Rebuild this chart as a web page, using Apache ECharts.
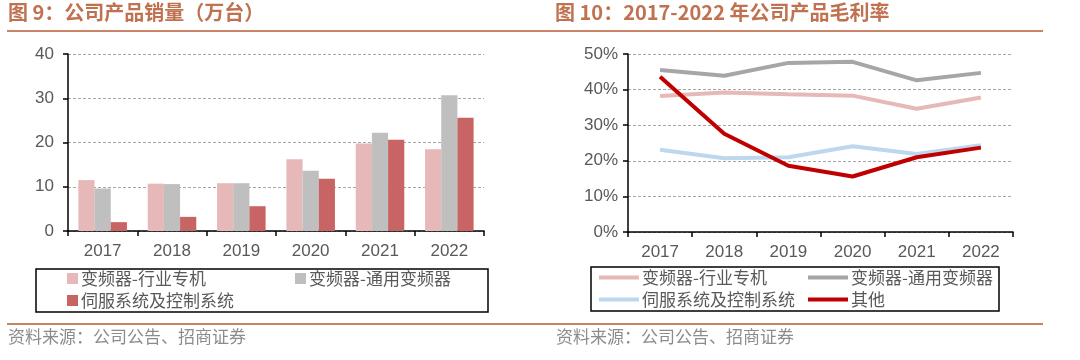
<!DOCTYPE html>
<html><head><meta charset="utf-8">
<script src="https://cdn.jsdelivr.net/npm/echarts@6/dist/echarts.min.js"></script>
<style>html,body{margin:0;padding:0;background:#fff}#c{width:1080px;height:360px}</style>
</head><body><div id="c"></div>
<script>
var years = ['2017','2018','2019','2020','2021','2022'];
var salesNames = ['变频器-行业专机','变频器-通用变频器','伺服系统及控制系统'];
var salesSpecial = [11.5, 10.7, 10.8, 16.2, 19.8, 18.5];
var salesGeneral = [9.6, 10.6, 10.8, 13.6, 22.2, 30.7];
var salesServo = [2.0, 3.2, 5.6, 11.8, 20.6, 25.6];
var marginNames = ['变频器-行业专机','变频器-通用变频器','伺服系统及控制系统','其他'];
var marginSpecial = [38.2, 39.2, 38.7, 38.3, 34.6, 37.8];
var marginGeneral = [45.5, 43.9, 47.5, 47.8, 42.6, 44.7];
var marginServo = [23.1, 20.7, 21.0, 24.1, 21.9, 24.4];
var marginOther = [43.6, 27.6, 18.6, 15.6, 21.0, 23.7];
var leftTicks = [0, 10, 20, 30, 40];
var rightTicks = ['0%','10%','20%','30%','40%','50%'];

var cPink = '#E6B8B7', cGray = '#BFBFBF', cRed = '#C86464';
var lPink = '#E6B8B7', lGray = '#A6A6A6', lBlue = '#BDD7EE', lRed = '#C00000';
var txt = '#595959';
var titleColor = '#C0714F';
var lab = {color: txt, fontSize: 17, fontFamily: 'Liberation Sans, Arial, sans-serif'};
var legText = {color: txt, fontSize: 17, fontFamily: 'Noto Sans CJK SC, sans-serif'};

var chart = echarts.init(document.getElementById('c'));
function ax(extra){
  return Object.assign({
    axisLine:{show:true,lineStyle:{color:'#000',width:1.5}},
    axisTick:{show:true,lineStyle:{color:'#000',width:1.5},length:5},
    axisLabel:Object.assign({},lab),
    splitLine:{show:false}
  }, extra);
}
function leg(name, left, top, icon, w, h){
  return {data:[name], left:left, top:top, orient:'horizontal', icon:icon, itemWidth:w, itemHeight:h,
    itemGap:0, padding:0, textStyle:Object.assign({padding:[0,0,0,-2]}, legText), selectedMode:false};
}
var option = {
  animation:false,
  textStyle:{fontFamily:'Noto Sans CJK SC, sans-serif'},
  grid:[
    {left:68, top:54, width:416, height:177},
    {left:628, top:54, width:385, height:178}
  ],
  xAxis:[
    ax({type:'category', data:years, gridIndex:0, axisTick:{show:true,alignWithLabel:false,length:5,lineStyle:{color:'#000',width:1.5}}, axisLabel:Object.assign({margin:12},lab)}),
    ax({type:'category', data:years, gridIndex:1, axisTick:{show:true,alignWithLabel:false,length:5,lineStyle:{color:'#000',width:1.5}}, axisLabel:Object.assign({margin:12},lab)})
  ],
  yAxis:[
    ax({type:'value', gridIndex:0, min:0, max:40, interval:10,
      axisLabel:Object.assign({margin:14, formatter:function(v){return leftTicks.indexOf(v)>=0? String(v):'';}},lab),
      splitLine:{show:true,lineStyle:{color:'#A6A6A6',type:[3,2],width:1}}}),
    ax({type:'value', gridIndex:1, min:0, max:50, interval:10,
      axisLabel:Object.assign({margin:10, formatter:function(v){return rightTicks[v/10];}},lab),
      splitLine:{show:true,lineStyle:{color:'#A6A6A6',type:[3,2],width:1}}})
  ],
  legend:[
    leg(salesNames[0], 67, 270, 'rect', 11, 11),
    leg(salesNames[1], 295, 270, 'rect', 11, 11),
    leg(salesNames[2], 67, 292, 'rect', 11, 11),
    leg(marginNames[0]+' ', 599, 269, 'path://M0,0H40V4H0Z', 40, 4),
    leg(marginNames[1]+' ', 808, 269, 'path://M0,0H40V4H0Z', 40, 4),
    leg(marginNames[2]+' ', 599, 291, 'path://M0,0H40V4H0Z', 40, 4),
    leg(marginNames[3], 808, 291, 'path://M0,0H40V4H0Z', 40, 4)
  ],
  series:[
    {name:salesNames[0], type:'bar', xAxisIndex:0, yAxisIndex:0, data:salesSpecial, itemStyle:{color:cPink}, barGap:'0%', barCategoryGap:'30%'},
    {name:salesNames[1], type:'bar', xAxisIndex:0, yAxisIndex:0, data:salesGeneral, itemStyle:{color:cGray}, barGap:'0%', barCategoryGap:'30%'},
    {name:salesNames[2], type:'bar', xAxisIndex:0, yAxisIndex:0, data:salesServo, itemStyle:{color:cRed}, barGap:'0%', barCategoryGap:'30%'},
    {name:marginNames[0]+' ', type:'line', xAxisIndex:1, yAxisIndex:1, data:marginSpecial, symbol:'none', lineStyle:{color:lPink,width:4}, itemStyle:{color:lPink}},
    {name:marginNames[1]+' ', type:'line', xAxisIndex:1, yAxisIndex:1, data:marginGeneral, symbol:'none', lineStyle:{color:lGray,width:4}, itemStyle:{color:lGray}},
    {name:marginNames[2]+' ', type:'line', xAxisIndex:1, yAxisIndex:1, data:marginServo, symbol:'none', lineStyle:{color:lBlue,width:4}, itemStyle:{color:lBlue}},
    {name:marginNames[3], type:'line', xAxisIndex:1, yAxisIndex:1, data:marginOther, symbol:'none', lineStyle:{color:lRed,width:4}, itemStyle:{color:lRed}}
  ],
  graphic:[
    {type:'text', left:8, top:2, style:{text:'图 9：公司产品销量（万台）', fill:titleColor, font:'bold 20px "Noto Sans CJK SC", sans-serif'}},
    {type:'text', left:555, top:2, style:{text:'图 10：2017-2022 年公司产品毛利率', fill:titleColor, font:'bold 20px "Noto Sans CJK SC", sans-serif'}},
    {type:'rect', shape:{x:7, y:30, width:1036, height:2}, style:{fill:'#C98468'}},
    {type:'rect', shape:{x:7, y:323, width:1036, height:2}, style:{fill:'#C98468'}},
    {type:'rect', shape:{x:36, y:269, width:452, height:43}, style:{fill:'none', stroke:'#000', lineWidth:1.5}},
    {type:'rect', shape:{x:591, y:267, width:408, height:44}, style:{fill:'none', stroke:'#000', lineWidth:1.5}},
    {type:'text', left:8, top:328, style:{text:'资料来源：公司公告、招商证券', fill:'#8C8C8C', font:'17px "Noto Sans CJK SC", sans-serif'}},
    {type:'text', left:556, top:328, style:{text:'资料来源：公司公告、招商证券', fill:'#8C8C8C', font:'17px "Noto Sans CJK SC", sans-serif'}}
  ]
};
option.legend[3].formatter = option.legend[4].formatter = option.legend[5].formatter = function(n){return n.trim();};
chart.setOption(option);
</script></body></html>
